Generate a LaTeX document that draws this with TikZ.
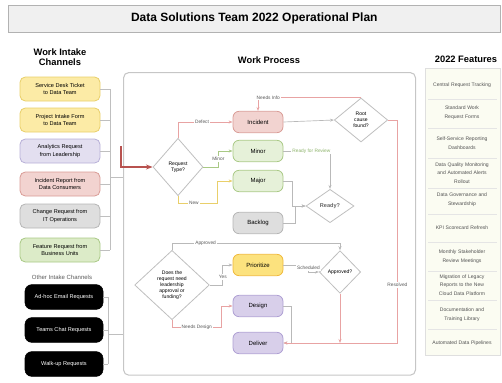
\documentclass[tikz,border=0pt]{standalone}
\usepackage{fontspec}
\setmainfont{Liberation Sans}
\usepackage{xcolor}
\usepackage{tikz}
\usetikzlibrary{shapes,arrows,positioning,calc,arrows.meta}

\definecolor{yelfill}{HTML}{FCEBA6}
\definecolor{yeldraw}{HTML}{E9CF6A}
\definecolor{lavfill}{HTML}{E3DFF0}
\definecolor{lavdraw}{HTML}{B8B0D8}
\definecolor{pinkfill}{HTML}{F2D3D0}
\definecolor{pinkdraw}{HTML}{D99C96}
\definecolor{grayfill}{HTML}{DEDEDE}
\definecolor{graydraw}{HTML}{B5B5B5}
\definecolor{grnfill}{HTML}{DCEBC8}
\definecolor{grndraw}{HTML}{A9C985}
\definecolor{priofill}{HTML}{FCE27E}
\definecolor{priodraw}{HTML}{F0B93A}
\definecolor{purpfill}{HTML}{D8CFEA}
\definecolor{purpdraw}{HTML}{AE9FD3}
\definecolor{linered}{HTML}{E8A3A3}
\definecolor{entryred}{HTML}{B8524F}
\definecolor{greentext}{HTML}{8DB36A}
\definecolor{featbg}{HTML}{FBFCF2}

\begin{document}
\begin{tikzpicture}[x=0.75pt, y=-0.75pt,
    intake/.style={draw, rounded corners=4pt, line width=0.6pt, minimum width=60pt, minimum height=18pt, align=center, inner sep=1pt, font=\fontsize{4.2}{5.5}\selectfont},
    other/.style={draw=black, fill=black, rounded corners=5pt, minimum width=58.5pt, minimum height=18.5pt, text=white, inner sep=1pt, font=\fontsize{4.2}{5.5}\selectfont},
    task/.style={draw, rounded corners=4.5pt, line width=0.6pt, minimum width=37.5pt, minimum height=16pt, inner sep=1pt, font=\fontsize{4.5}{5.5}\selectfont},
    decision/.style={diamond, draw=gray!50, line width=0.6pt, fill=white, align=center, inner sep=0pt, aspect=1, font=\fontsize{3.8}{4.6}\selectfont},
    header/.style={align=center, font=\fontsize{7}{8}\selectfont\bfseries},
    feature/.style={text width=54pt, align=center, text=gray!65!black, font=\fontsize{3.8}{6.5}\selectfont},
    flow/.style={draw=gray!55, line width=0.5pt, -{Stealth[length=3pt]}},
    redflow/.style={flow, draw=linered},
    greenflow/.style={flow, draw=grndraw},
    yelflow/.style={flow, draw=yeldraw},
    bracket/.style={draw=gray!50, line width=0.5pt},
    lbl/.style={fill=white, inner sep=0.8pt, text=gray!70!black, font=\fontsize{3.6}{4.3}\selectfont}
  ]
    \useasboundingbox (0,0) rectangle (502,382);

    % Title
    \node[draw=gray!60, fill=gray!12, minimum width=369pt, minimum height=20pt, anchor=north west,
          font=\fontsize{9}{11}\selectfont\bfseries] (title) at (8,5) {Data Solutions Team 2022 Operational Plan};

    % Headers
    \node[header] (intakehead) at (60,57) {Work Intake\\Channels};
    \node[header] (processhead) at (269,60) {Work Process};
    \node[header] (featurehead) at (466,59) {2022 Features};

    % Work intake channels
    \node[intake, fill=yelfill, draw=yeldraw] (in1) at (60,89) {Service Desk Ticket\\to Data Team};
    \node[intake, fill=yelfill, draw=yeldraw] (in2) at (60,120) {Project Intake Form\\to Data Team};
    \node[intake, fill=lavfill, draw=lavdraw] (in3) at (60,151) {Analytics Request\\from Leadership};
    \node[intake, fill=pinkfill, draw=pinkdraw] (in4) at (60,184) {Incident Report from\\Data Consumers};
    \node[intake, fill=grayfill, draw=graydraw] (in5) at (60,216) {Change Request from\\IT Operations};
    \node[intake, fill=grnfill, draw=grndraw] (in6) at (60,250) {Feature Request from\\Business Units};

    % Other intake channels
    \node[font=\fontsize{4.5}{5.5}\selectfont, text=gray!70!black] (otherhead) at (62,277) {Other Intake Channels};
    \node[other] (o1) at (64,297) {Ad-hoc Email Requests};
    \node[other] (o2) at (64,330) {Teams Chat Requests};
    \node[other] (o3) at (64,364) {Walk-up Requests};

    % Work process frame
    \node[draw=gray!45, line width=0.8pt, rounded corners=4pt, minimum width=219pt, minimum height=227pt, anchor=north west] (process) at (123,72) {};

    % Intake brackets
    \foreach \n in {in1,in2,in3,in4,in5,in6} \draw[bracket] (\n.east) -- ++(10,0);
    \draw[bracket] ([xshift=7.5pt]in1.east) -- ([xshift=7.5pt]in6.east);
    \coordinate (hub) at (110,177);
    \draw[bracket] (hub) -- (hub -| process.west);
    \foreach \n in {o1,o2,o3} \draw[bracket] (\n.east) -- ++(5,0);
    \draw[bracket] ([xshift=3.75pt]o1.east) -- ([xshift=3.75pt]o3.east);
    \coordinate (hubb) at (108,334);
    \draw[bracket] (hubb) -- (hubb -| process.west);

    % Decisions
    \node[decision, minimum width=37.5pt, minimum height=43pt] (d1) at (178,167) {Request\\Type?};
    \node[decision, minimum width=56pt, minimum height=52pt] (d2) at (172,285) {Does the\\request need\\leadership\\approval or\\funding?};
    \node[decision, minimum width=40pt, minimum height=33pt] (tr) at (361,120) {Root\\cause\\found?};
    \node[decision, minimum width=36pt, minimum height=25pt, font=\fontsize{4.2}{5}\selectfont\bfseries, text=gray!80!black] (mid) at (330,206) {Ready?};
    \node[decision, minimum width=31pt, minimum height=32pt] (lr) at (340,272) {Approved?};

    % Tasks
    \node[task, fill=pinkfill, draw=pinkdraw] (incident) at (258,122) {Incident};
    \node[task, fill=grnfill!70, draw=grndraw] (minor) at (258,151) {Minor};
    \node[task, fill=grnfill!70, draw=grndraw] (major) at (258,181) {Major};
    \node[task, fill=grayfill, draw=graydraw] (backlog) at (258,223) {Backlog};
    \node[task, fill=priofill, draw=priodraw] (prio) at (258,265) {Prioritize};
    \node[task, fill=purpfill, draw=purpdraw] (design) at (258,306) {Design};
    \node[task, fill=purpfill, draw=purpdraw] (deliver) at (258,343) {Deliver};

    % Entry arrow
    \coordinate (entry) at (121,146);
    \draw[draw=entryred, line width=1.6pt, -{Stealth[length=5pt]}] (entry) |- (d1.west);

    % Connectors
    \draw[redflow] (d1.north) |- node[lbl, pos=0.72] {Defect} (incident.west);
    \draw[greenflow] (d1.east) -- ++(15,0) |- node[lbl, pos=0.25] {Minor} (minor.west);
    \draw[yelflow] (d1.south) |- node[lbl, pos=0.7] {New} ($(major.west)+(-15,22)$) |- (major.west);
    \draw[flow] (incident.east) -- (tr.west);
    \draw[redflow] (tr.north) -| node[lbl, pos=0.45] {Needs Info} (incident.north);
    \draw[flow] (minor.east) -| node[lbl, pos=0.3, text=greentext] {Ready for Review} (mid.north);
    \draw[flow] (major.east) -- ++(9,0) |- (mid.west);
    \draw[flow] (backlog.east) -- ++(12,0) |- (mid.west);
    \draw[flow] (d2.north) -- ++(0,-7) -| node[lbl, pos=0.1] {Approved} (lr.north);
    \draw[flow] (d2.east) -- ++(13,0) |- node[lbl, pos=0.2] {Yes} (prio.west);
    \draw[redflow] (d2.south) |- node[lbl, pos=0.75] {Needs Design} ($(design.west)+(-11,21)$) |- (design.west);
    \draw[flow] (prio.east) -- ++(25,0) |- node[lbl, pos=0.2] {Scheduled} (lr.west);
    \draw[flow] (design.east) -- ++(8,0) |- (deliver.east);
    \draw[redflow] (tr.east) -| node[lbl, pos=0.87] {Resolved} ($(deliver.east)+(114,0)$) -- (deliver.east);
    \draw[redflow] (lr.south) -- (lr.south |- deliver.east);

    % 2022 features
    \node[draw=gray!25, fill=featbg, minimum width=56pt, minimum height=215pt, anchor=north west] (features) at (425,68) {};
    \node[feature] (f1) at (462,85) {Central Request Tracking};
    \node[feature] (f2) at (462,113) {Standard Work\\Request Forms};
    \node[feature] (f3) at (462,143) {Self-Service Reporting\\Dashboards};
    \node[feature] (f4) at (462,173) {Data Quality Monitoring\\and Automated Alerts\\Rollout};
    \node[feature] (f5) at (462,200) {Data Governance and\\Stewardship};
    \node[feature] (f6) at (462,228) {KPI Scorecard Refresh};
    \node[feature] (f7) at (462,257) {Monthly Stakeholder\\Review Meetings};
    \node[feature] (f8) at (462,285) {Migration of Legacy\\Reports to the New\\Cloud Data Platform};
    \node[feature] (f9) at (462,315) {Documentation and\\Training Library};
    \node[feature] (f10) at (462,343) {Automated Data Pipelines};
    \foreach \y in {99,128,158,188,214,242,271,300,329}
      \draw[gray!20, line width=0.4pt] (428,\y) -- (497,\y);
\end{tikzpicture}
\end{document}
